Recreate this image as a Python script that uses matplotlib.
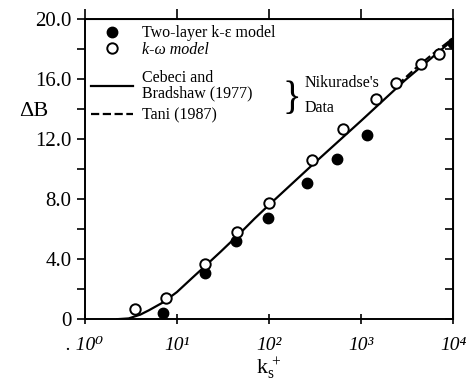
import numpy as np
import matplotlib
matplotlib.use('Agg')
import matplotlib.pyplot as plt
from matplotlib.ticker import FixedLocator, NullLocator

plt.rcParams['font.family'] = ['Liberation Serif', 'DejaVu Serif']
plt.rcParams['mathtext.fontset'] = 'custom'
plt.rcParams['mathtext.rm'] = 'Liberation Serif'
plt.rcParams['mathtext.it'] = 'Liberation Serif:italic'

# ---------------- data ----------------
ks_ke = [7.0, 20, 44, 98, 258, 550, 1170, 10000]
dB_ke = [0.4, 3.07, 5.2, 6.73, 9.07, 10.67, 12.27, 18.4]

ks_kw = [3.5, 7.6, 20, 45, 100, 295, 640, 1450, 2400, 4500, 7000]
dB_kw = [0.67, 1.4, 3.67, 5.8, 7.75, 10.6, 12.65, 14.67, 15.7, 17.0, 17.67]

ks_cb = [2.25, 3, 4, 5, 7, 10, 15, 20, 30, 50, 70, 100, 300, 1000, 3000, 10000]
dB_cb = [0.0, 0.05, 0.3, 0.6, 1.1, 1.8, 2.8, 3.5, 4.5, 5.8, 6.7, 7.6, 10.3, 13.2, 15.9, 18.6]

ks_tani = [2500, 4000, 6000, 10000]
dB_tani = [15.6, 16.75, 17.65, 18.7]

yticks = [0, 4, 8, 12, 16, 20]
ylabels = ['0', '4.0', '8.0', '12.0', '16.0', '20.0']
xticks = [1, 10, 100, 1000, 10000]
xlabels = ['. 10\u2070', '10\u00b9', '10\u00b2', '10\u00b3', '10\u2074']

# ---------------- plot ----------------
fig = plt.figure(figsize=(4.66, 3.85), dpi=100)
ax = fig.add_axes([0.182, 0.171, 0.79, 0.78])

l_cb, = ax.plot(ks_cb, dB_cb, '-k', linewidth=1.6)
l_ta, = ax.plot(ks_tani, dB_tani, '--k', linewidth=1.6)
m_ke, = ax.plot(ks_ke, dB_ke, 'o', color='black', markersize=7.5)
m_kw, = ax.plot(ks_kw, dB_kw, 'o', markerfacecolor='white', markeredgecolor='black',
                markeredgewidth=1.4, markersize=7.5)

ax.set_xscale('log')
ax.set_xlim(1, 10000)
ax.set_ylim(0, 20)

ax.xaxis.set_major_locator(FixedLocator(xticks))
ax.xaxis.set_minor_locator(NullLocator())
ax.set_xticklabels(xlabels, fontsize=14, fontstyle='italic')
ax.set_yticks(yticks)
ax.set_yticklabels(ylabels, fontsize=15)
ax.set_yticks(np.arange(2, 20, 4), minor=True)
ax.tick_params(axis='y', which='both', direction='out', length=6, width=1.2)
ax.tick_params(axis='x', which='both', direction='inout', length=7, width=1.2, pad=9)

for s in ax.spines.values():
    s.set_linewidth(1.4)

# right and top ticks
ax_r = ax.secondary_yaxis('right')
ax_r.set_yticks(np.arange(0, 21, 2))
ax_r.set_yticklabels([])
ax_r.tick_params(direction='in', length=6, width=1.2)
ax_t = ax.secondary_xaxis('top')
ax_t.xaxis.set_major_locator(FixedLocator(xticks))
ax_t.xaxis.set_minor_locator(NullLocator())
ax_t.set_xticklabels([])
ax_t.tick_params(direction='out', length=7, width=1.2)

ax.set_ylabel('ΔB', fontsize=16, rotation=0, va='center', ha='center')
ax.yaxis.set_label_coords(-0.139, 0.69)
ax.set_xlabel(r'$\mathrm{k_s^{\,+}}$', fontsize=16, labelpad=2)

leg1 = ax.legend([m_ke, m_kw], ['Two-layer k-ε model', 'k-ω model'], loc='upper left',
                 frameon=False, fontsize=11.5, handlelength=2.6, handletextpad=0.6,
                 labelspacing=0.05, borderaxespad=0.0, bbox_to_anchor=(0.0, 1.0))
leg1.get_texts()[1].set_fontstyle('italic')
ax.add_artist(leg1)
leg2 = ax.legend([l_cb, l_ta], ['Cebeci and\nBradshaw (1977)', 'Tani (1987)'], loc='upper left',
                 frameon=False, fontsize=11.5, handlelength=2.6, handletextpad=0.6,
                 labelspacing=0.35, borderaxespad=0.0, bbox_to_anchor=(0.0, 0.85))
for t in leg2.get_texts():
    t.set_linespacing(0.95)

ax.text(0.537, 0.733, '}', transform=ax.transAxes, fontsize=28, va='center',
        ha='left', fontweight='light')
ax.text(0.598, 0.785, "Nikuradse's", transform=ax.transAxes, fontsize=11.5, va='center')
ax.text(0.598, 0.702, 'Data', transform=ax.transAxes, fontsize=11.5, va='center')

fig.savefig('out.png', dpi=100)
